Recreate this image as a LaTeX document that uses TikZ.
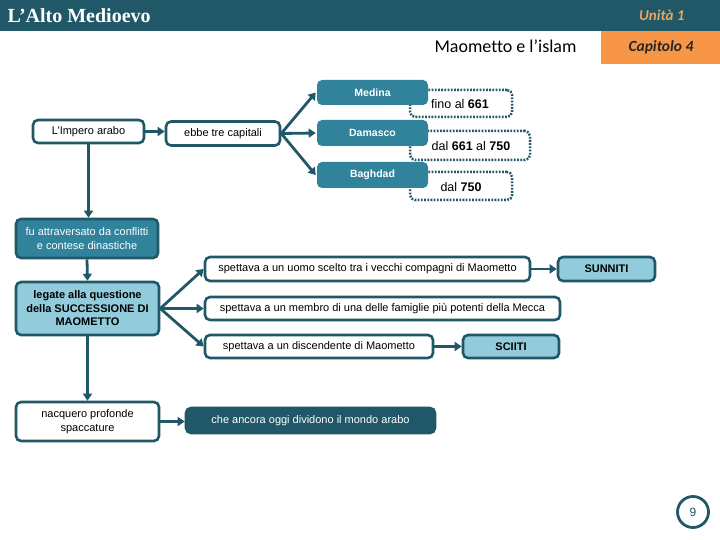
\documentclass[tikz,border=0pt]{standalone}
\usepackage{fontspec}
\setmainfont{Liberation Sans}
\newfontfamily\serifb{Liberation Serif}
\newfontfamily\carl[Ligatures=NoCommon]{Carlito}
\usetikzlibrary{arrows.meta}
\definecolor{dteal}{RGB}{33,88,104}
\definecolor{mteal}{RGB}{49,130,155}
\definecolor{lblue}{RGB}{146,204,220}
\definecolor{orng}{RGB}{247,150,70}
\definecolor{unit}{RGB}{232,166,96}
\tikzset{
  base/.style={draw=dteal, line width=2.6pt, rounded corners=5pt, inner sep=2pt, align=center, font=\fontsize{11}{13.5}\selectfont},
  wbox/.style={base, fill=white},
  mbox/.style={base, fill=mteal, text=white},
  lbox/.style={base, fill=lblue, font=\fontsize{11}{13.5}\selectfont\bfseries},
  dbox/.style={base, fill=dteal, text=white},
  capbox/.style={base, fill=mteal, draw=none, text=white, font=\fontsize{10.5}{12}\selectfont\bfseries},
  dotbox/.style={draw=dteal, line width=2.5pt, dash pattern=on 1.8pt off 1.4pt, rounded corners=5pt, fill=white},
  datetxt/.style={font=\fontsize{12.5}{14}\selectfont},
  arr/.style={draw=dteal, line width=2.8pt, -{Triangle[width=9pt,length=7pt]}},
}
\begin{document}
\begin{tikzpicture}[x=1pt,y=-1pt]
\useasboundingbox (0,0) rectangle (720,540);
% header
\fill[dteal] (0,0) rectangle (720,31);
\node[anchor=west, text=white, font=\serifb\fontsize{20}{21}\selectfont\bfseries] (title) at (4,15.5) {L’Alto Medioevo};
\node[anchor=east, text=unit, font=\carl\fontsize{15}{16}\selectfont\bfseries\itshape] (unita) at (688,15.5) {Unità 1};
\fill[orng] (601,31) rectangle (720,64);
\node[text=black!85, font=\carl\fontsize{15.5}{16}\selectfont\bfseries\itshape] (cap) at (661,47) {Capitolo 4};
\node[anchor=east, font=\carl\fontsize{18}{19}\selectfont] (mao) at (580,46) {Maometto e l’islam};

% dotted date boxes
\node[dotbox, minimum width=102pt, minimum height=27pt] (d1) at (461,103.5) {};
\node[dotbox, minimum width=120pt, minimum height=29pt] (d2) at (470,145.5) {};
\node[dotbox, minimum width=102pt, minimum height=28pt] (d3) at (461,186) {};
\node[datetxt] (t1) at (460,104.5) {fino al \textbf{661}};
\node[datetxt] (t2) at (471,146.5) {dal \textbf{661} al \textbf{750}};
\node[datetxt] (t3) at (461,187.5) {dal \textbf{750}};

% capitals
\node[capbox, minimum width=111pt, minimum height=25pt] (med) at (372.5,92.5) {Medina};
\node[capbox, minimum width=111pt, minimum height=26pt] (dam) at (372.5,133) {Damasco};
\node[capbox, minimum width=111pt, minimum height=26pt] (bag) at (372.5,175) {Baghdad};

% main nodes
\node[wbox, minimum width=111pt, minimum height=23pt] (imp) at (88.5,131.5) {L'Impero arabo};
\node[wbox, minimum width=114pt, minimum height=24pt] (ebbe) at (223,133.5) {ebbe tre capitali};
\node[mbox, minimum width=142pt, minimum height=39pt] (fu) at (87,238.5) {fu attraversato da conflitti\\e contese dinastiche};
\node[lbox, minimum width=143pt, minimum height=53pt] (leg) at (87.5,308.5) {legate alla questione\\della SUCCESSIONE DI\\MAOMETTO};
\node[wbox, minimum width=143pt, minimum height=39pt] (nac) at (87.5,421.5) {nacquero profonde\\spaccature};
\node[dbox, minimum width=249pt, minimum height=25pt] (che) at (310.5,420.5) {che ancora oggi dividono il mondo arabo};
\node[wbox, minimum width=325pt, minimum height=24pt] (s1) at (367.5,269) {spettava a un uomo scelto tra i vecchi compagni di Maometto};
\node[wbox, minimum width=355pt, minimum height=23pt] (s2) at (382.5,308.5) {spettava a un membro di una delle famiglie più potenti della Mecca};
\node[wbox, minimum width=228pt, minimum height=23pt] (s3) at (319,346.5) {spettava a un discendente di Maometto};
\node[lbox, minimum width=97pt, minimum height=24pt] (sun) at (606.5,269) {SUNNITI};
\node[lbox, minimum width=96pt, minimum height=23pt] (sci) at (511,346.5) {SCIITI};

% page number
\node[draw=dteal, line width=2.8pt, circle, minimum size=31pt, fill=white, font=\fontsize{12}{13}\selectfont, text=dteal] (pg) at (693,512) {9};

% connectors
\draw[arr] (imp.east) -- (imp.east -| ebbe.west);
\draw[arr] (ebbe.east) -- (med.west);
\draw[arr] (ebbe.east) -- (dam.west);
\draw[arr] (ebbe.east) -- (bag.west);
\draw[arr] (imp.south) -- (imp.south |- fu.north);
\draw[arr] (fu.south) -- (leg.north);
\draw[arr] (leg.south) -- (nac.north);
\draw[arr] (nac.east) -- (nac.east -| che.west);
\draw[arr] (leg.east) -- (s1.west);
\draw[arr] (leg.east) -- (s2.west);
\draw[arr] (leg.east) -- (s3.west);
\draw[arr] (s1.east) -- (sun.west);
\draw[arr] (s3.east) -- (sci.west);
\end{tikzpicture}
\end{document}
